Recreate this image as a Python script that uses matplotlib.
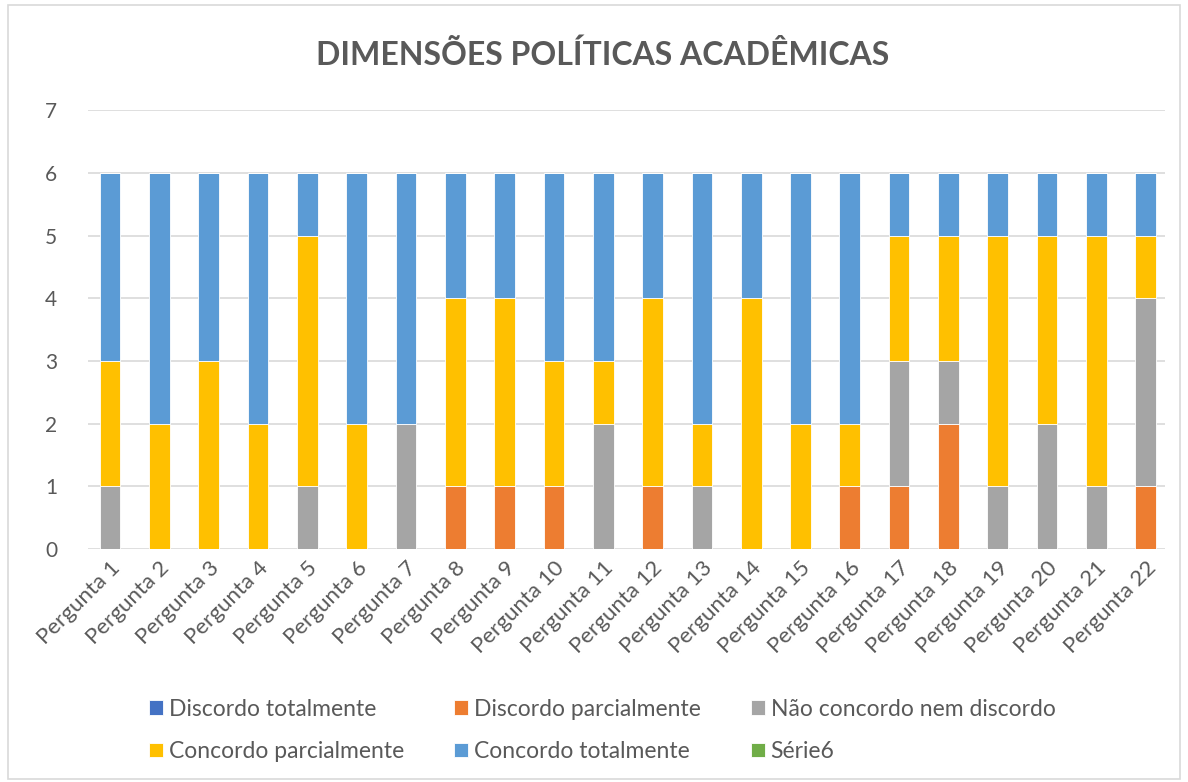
import numpy as np
import matplotlib.pyplot as plt
from matplotlib.patches import Rectangle

plt.rcParams['font.family'] = ['Lato', 'DejaVu Sans']

perguntas = ['Pergunta %d' % i for i in range(1, 23)]
series = ['Discordo totalmente', 'Discordo parcialmente', 'Não concordo nem discordo',
          'Concordo parcialmente', 'Concordo totalmente', 'Série6']
cores = ['#4472C4', '#ED7D31', '#A5A5A5', '#FFC000', '#5B9BD5', '#70AD47']

discordo_total = [0] * 22
discordo_parcial = [0, 0, 0, 0, 0, 0, 0, 1, 1, 1, 0, 1, 0, 0, 0, 1, 1, 2, 0, 0, 0, 1]
neutro = [1, 0, 0, 0, 1, 0, 2, 0, 0, 0, 2, 0, 1, 0, 0, 0, 2, 1, 1, 2, 1, 3]
concordo_parcial = [2, 2, 3, 2, 4, 2, 0, 3, 3, 2, 1, 3, 1, 4, 2, 1, 2, 2, 4, 3, 4, 1]
concordo_total = [3, 4, 3, 4, 1, 4, 4, 2, 2, 3, 3, 2, 4, 2, 4, 4, 1, 1, 1, 1, 1, 1]
serie6 = [0] * 22

valores = [discordo_total, discordo_parcial, neutro, concordo_parcial, concordo_total, serie6]

fig = plt.figure(figsize=(11.88, 7.82), dpi=100)
ax = fig.add_axes([0.074, 0.298, 0.907, 0.561])

# chart border
fig.patches.append(Rectangle((0.007, 0.004), 0.986, 0.99, transform=fig.transFigure,
                             fill=False, edgecolor='#D9D9D9', linewidth=1.2))

x = np.arange(len(perguntas))
base = np.zeros(len(perguntas))
handles = []
for nome, cor, v in zip(series, cores, valores):
    h = ax.bar(x, v, 0.42, bottom=base, color=cor, edgecolor='white', linewidth=0.6,
               label=nome, zorder=3)
    handles.append(h)
    base += np.array(v)

ax.set_xlim(-0.45, 21.40)
ax.set_ylim(0, 7)
ax.set_yticks(range(8))
ax.yaxis.grid(True, color='#D9D9D9', linewidth=1.2, zorder=0)
for s in ax.spines.values():
    s.set_visible(False)
ax.tick_params(length=0, labelsize=15, colors='#595959')
ax.tick_params(axis='y', pad=22)
ax.tick_params(axis='x', pad=6)
ax.set_xticks(x)
ax.set_xticklabels(perguntas, rotation=45, ha='right', rotation_mode='anchor', fontsize=16)

fig.text(0.507, 0.93, 'DIMENSÕES POLÍTICAS ACADÊMICAS', ha='center', va='center',
         fontsize=23, fontweight='bold', color='#595959')

ordem = [0, 3, 1, 4, 2, 5]
fig.legend([handles[i] for i in ordem], [series[i] for i in ordem], loc='center',
           bbox_to_anchor=(0.507, 0.066), ncol=3, frameon=False, fontsize=16.5,
           labelcolor='#595959', handlelength=0.6, handleheight=0.6, handletextpad=0.25,
           columnspacing=2.2, labelspacing=0.95)

fig.savefig('out.png', dpi=100)
